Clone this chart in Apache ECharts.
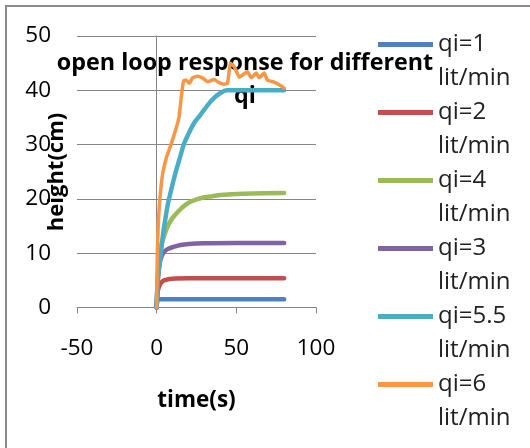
<!DOCTYPE html>
<html>
<head>
<meta charset="utf-8">
<script src="https://cdn.jsdelivr.net/npm/echarts@6/dist/echarts.min.js"></script>
<style>html,body{margin:0;padding:0;background:#fff}#c{width:530px;height:448px}</style>
</head>
<body>
<div id="c"></div>
<script>
// ---- data ----
const seriesNames = ['qi=1 lit/min', 'qi=2 lit/min', 'qi=4 lit/min', 'qi=3 lit/min', 'qi=5.5 lit/min', 'qi=6 lit/min'];
const xTicks = [-50, 0, 50, 100];
const yTicks = [0, 10, 20, 30, 40, 50];
const yAxisTitle = 'height(cm)';

const tQ1 = [0, 0.3, 1, 5, 10, 20, 30, 40, 50, 60, 70, 80];
const hQ1 = [0, 1.2, 1.5, 1.5, 1.5, 1.5, 1.5, 1.5, 1.5, 1.5, 1.5, 1.5];

const tQ2 = [0, 0.5, 1, 2, 3, 4, 6, 8, 12, 20, 30, 50, 80];
const hQ2 = [0, 2.5, 3.4, 4.2, 4.6, 4.9, 5.1, 5.25, 5.35, 5.4, 5.4, 5.4, 5.4];

const tQ4 = [0, 0.5, 1, 2, 3, 5, 7, 10, 13, 16, 20, 25, 30, 35, 40, 50, 60, 80];
const hQ4 = [0, 4.5, 7, 10, 11.5, 13.5, 15, 16.5, 17.5, 18.4, 19.3, 19.9, 20.3, 20.5, 20.7, 20.9, 21, 21.1];

const tQ3 = [0, 0.5, 1, 2, 3, 4, 6, 8, 10, 15, 20, 30, 50, 80];
const hQ3 = [0, 4, 6, 8.3, 9.3, 10, 10.6, 10.9, 11.1, 11.5, 11.7, 11.85, 11.9, 11.9];

const tQ55 = [0, 0.5, 1, 2, 3, 4, 5, 7, 9, 12, 15, 17, 20, 24, 27, 30, 35, 40, 44, 50, 60, 70, 80];
const hQ55 = [0, 4, 6, 8.5, 11, 13.5, 15.5, 19, 21.5, 25, 28, 30, 32, 34.2, 35.3, 36.5, 38.3, 39.5, 40, 40, 40, 40, 40];

const tQ6 = [0, 0.3, 0.7, 1.2, 2, 3, 4, 6, 9, 12, 14, 15.8, 16.9, 18.3, 20.6, 22.5, 25.6, 28.7, 30.5, 32, 36, 39.2, 42.3, 44.4, 45.3, 46.3, 48.8, 51.9, 53.8, 56.9, 59.4, 62.5, 64.4, 67.5, 69.4, 73.8, 76.9, 80];
const hQ6 = [0, 8, 13, 16.5, 20, 23, 25, 27.5, 30, 32.8, 35, 39.6, 41.7, 41.9, 41.3, 42.3, 42.6, 42.3, 41.9, 41.6, 42.0, 41.4, 41.1, 41.3, 43, 45, 44.3, 42.4, 42.8, 43.4, 42.3, 43.2, 42.3, 43.2, 41.9, 41.5, 41, 40.4];

const times = [tQ1, tQ2, tQ4, tQ3, tQ55, tQ6];
const heights = [hQ1, hQ2, hQ4, hQ3, hQ55, hQ6];
const colors = ['#4F81BD', '#C0504D', '#9BBB59', '#8064A2', '#4BACC6', '#F79646'];
const widths = [4.5, 4.5, 4.5, 4.5, 4.5, 3.5];

// ---- chart ----
const FONT = 'Open Sans';
const GRAY = '#868686';
const chart = echarts.init(document.getElementById('c'), null, {renderer: 'canvas'});

const series = seriesNames.map((name, i) => ({
  name: name,
  type: 'line',
  data: times[i].map((t, k) => [t, heights[i][k]]),
  symbol: 'none',
  showSymbol: false,
  smooth: i === 5 ? 0.15 : 0.35,
  lineStyle: {color: colors[i], width: widths[i], cap: 'round', join: 'round'},
  itemStyle: {color: colors[i]},
  emphasis: {disabled: true},
  animation: false
}));

chart.setOption({
  animation: false,
  backgroundColor: '#fff',
  title: {
    text: 'open loop response for different\nqi',
    left: 245,
    textAlign: 'center',
    top: 47,
    padding: 0,
    z: 0,
    textStyle: {fontFamily: FONT, fontSize: 23.3, fontWeight: 'bold', color: '#000', lineHeight: 33}
  },
  legend: {
    orient: 'vertical',
    left: 378,
    top: -1,
    padding: 0,
    itemWidth: 55,
    itemHeight: 5,
    itemGap: -23,
    icon: 'rect',
    selectedMode: false,
    data: seriesNames,
    formatter: n => '{e| }\n{a|' + n.split(' ')[0] + '}\n{a|' + n.split(' ')[1] + '}',
    textStyle: {
      fontFamily: FONT, fontSize: 24, color: '#222',
      rich: {
        e: {fontFamily: FONT, fontSize: 24, lineHeight: 33.5},
        a: {fontFamily: FONT, fontSize: 24, lineHeight: 33.5, color: '#222'}
      }
    }
  },
  grid: {left: 77, top: 36, width: 239, height: 271.5, containLabel: false, outerBoundsMode: 'none'},
  xAxis: {
    type: 'value',
    min: xTicks[0], max: xTicks[xTicks.length - 1], interval: 50,
    name: 'time(s)', nameLocation: 'middle', nameGap: 82,
    nameTextStyle: {fontFamily: FONT, fontSize: 22.5, fontWeight: 'bold', color: '#000'},
    axisLine: {show: true, onZero: false, lineStyle: {color: GRAY, width: 1}},
    axisTick: {show: true, length: 6, lineStyle: {color: GRAY}},
    axisLabel: {margin: 30, fontFamily: FONT, fontSize: 22.5, color: '#000'},
    splitLine: {show: false}
  },
  yAxis: {
    type: 'value',
    min: yTicks[0], max: yTicks[yTicks.length - 1], interval: 10,
    axisLine: {show: true, onZero: true, lineStyle: {color: GRAY, width: 1}},
    axisTick: {show: false},
    axisLabel: {margin: 26, fontFamily: FONT, fontSize: 22.5, color: '#000'},
    splitLine: {show: true, lineStyle: {color: GRAY, width: 1}}
  },
  graphic: [{
    type: 'rect', silent: true, z: -10,
    shape: {x: 6, y: 6, width: 620, height: 620},
    style: {fill: 'none', stroke: '#8a8a8a', lineWidth: 2}
  }, {
    type: 'text', silent: true,
    x: 57, y: 172, rotation: Math.PI / 2,
    style: {
      text: yAxisTitle, fill: '#000',
      font: 'bold 22px "Open Sans"',
      align: 'center', verticalAlign: 'middle'
    }
  }],
  series: series
});
</script>
</body>
</html>
